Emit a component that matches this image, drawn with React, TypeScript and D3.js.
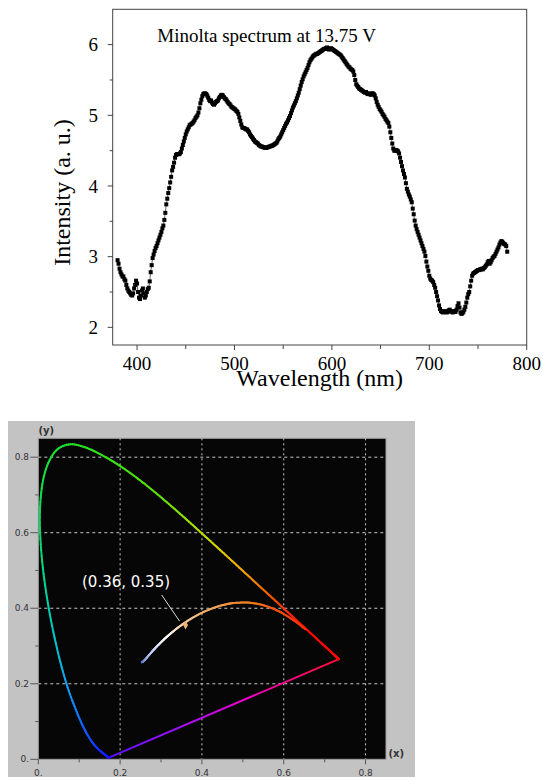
import React from 'react';
import * as d3 from 'd3';

// ---------------- Top chart data ----------------
const wavelengthStart = 380;
const wavelengthEnd = 780;
const intensity = [
  2.95, 2.90, 2.83, 2.78, 2.75, 2.72, 2.72, 2.68, 2.66, 2.60,
  2.55, 2.52, 2.50, 2.48, 2.46, 2.45, 2.48, 2.55, 2.60, 2.66,
  2.62, 2.50, 2.42, 2.40, 2.45, 2.52, 2.55, 2.48, 2.42, 2.45,
  2.50, 2.54, 2.56, 2.65, 2.78, 2.88, 2.98, 3.03, 3.08, 3.12,
  3.15, 3.19, 3.23, 3.27, 3.31, 3.35, 3.40, 3.44, 3.52, 3.62,
  3.74, 3.82, 3.90, 3.97, 4.05, 4.13, 4.22, 4.27, 4.33, 4.40,
  4.44, 4.45, 4.45, 4.45, 4.46, 4.48, 4.53, 4.58, 4.63, 4.68,
  4.73, 4.77, 4.80, 4.83, 4.86, 4.87, 4.88, 4.89, 4.91, 4.93,
  4.96, 4.98, 5.00, 5.04, 5.10, 5.17, 5.22, 5.27, 5.30, 5.31,
  5.31, 5.30, 5.28, 5.25, 5.22, 5.20, 5.21, 5.18, 5.16, 5.15,
  5.17, 5.19, 5.20, 5.21, 5.24, 5.26, 5.28, 5.29, 5.28, 5.26,
  5.24, 5.23, 5.21, 5.19, 5.17, 5.16, 5.14, 5.12, 5.11, 5.10,
  5.09, 5.08, 5.06, 5.05, 5.02, 4.97, 4.92, 4.87, 4.83, 4.82,
  4.82, 4.81, 4.80, 4.80, 4.78, 4.76, 4.73, 4.71, 4.69, 4.67,
  4.65, 4.63, 4.62, 4.61, 4.60, 4.58, 4.57, 4.56, 4.56, 4.55,
  4.55, 4.54, 4.54, 4.54, 4.55, 4.55, 4.56, 4.56, 4.57, 4.57,
  4.58, 4.59, 4.60, 4.61, 4.63, 4.66, 4.68, 4.70, 4.73, 4.76,
  4.79, 4.82, 4.85, 4.88, 4.90, 4.93, 4.96, 4.99, 5.03, 5.07,
  5.11, 5.14, 5.17, 5.20, 5.24, 5.28, 5.32, 5.37, 5.42, 5.47,
  5.51, 5.55, 5.58, 5.61, 5.64, 5.67, 5.71, 5.75, 5.78, 5.80,
  5.82, 5.84, 5.85, 5.86, 5.87, 5.87, 5.88, 5.89, 5.90, 5.91,
  5.92, 5.93, 5.94, 5.94, 5.95, 5.96, 5.94, 5.93, 5.94, 5.95,
  5.94, 5.93, 5.92, 5.91, 5.90, 5.89, 5.88, 5.87, 5.86, 5.85,
  5.83, 5.81, 5.79, 5.77, 5.75, 5.73, 5.71, 5.69, 5.68, 5.66,
  5.65, 5.64, 5.62, 5.57, 5.50, 5.44, 5.42, 5.40, 5.38, 5.37,
  5.36, 5.35, 5.34, 5.33, 5.32, 5.33, 5.31, 5.30, 5.31, 5.30,
  5.29, 5.31, 5.31, 5.30, 5.28, 5.24, 5.19, 5.15, 5.12, 5.09,
  5.07, 5.05, 5.02, 5.00, 4.98, 4.95, 4.93, 4.91, 4.89, 4.84,
  4.76, 4.68, 4.60, 4.53, 4.50, 4.50, 4.51, 4.50, 4.49, 4.46,
  4.40, 4.34, 4.28, 4.22, 4.17, 4.12, 4.04, 3.96, 3.92, 3.88,
  3.85, 3.81, 3.77, 3.68, 3.60, 3.51, 3.44, 3.39, 3.35, 3.31,
  3.27, 3.23, 3.19, 3.15, 3.11, 3.07, 3.01, 2.93, 2.86, 2.80,
  2.73, 2.69, 2.67, 2.66, 2.64, 2.60, 2.56, 2.50, 2.44, 2.38,
  2.31, 2.26, 2.23, 2.22, 2.21, 2.22, 2.23, 2.22, 2.21, 2.22,
  2.24, 2.25, 2.23, 2.22, 2.21, 2.23, 2.22, 2.22, 2.25, 2.30,
  2.34, 2.28, 2.21, 2.19, 2.20, 2.22, 2.25, 2.29, 2.35, 2.42,
  2.47, 2.50, 2.58, 2.66, 2.73, 2.76, 2.77, 2.78, 2.79, 2.80,
  2.81, 2.81, 2.82, 2.82, 2.83, 2.82, 2.84, 2.85, 2.87, 2.89,
  2.92, 2.94, 2.90, 2.92, 2.95, 2.98, 3.00, 3.01, 3.04, 3.07,
  3.10, 3.13, 3.17, 3.20, 3.22, 3.21, 3.19, 3.18, 3.17, 3.15,
  3.07,
];
const xMajorTicks = [400, 500, 600, 700, 800];
const xMinorTicks = [450, 550, 650, 750];
const yMajorTicks = [2, 3, 4, 5, 6];
const yMinorTicks = [2.5, 3.5, 4.5, 5.5];
const annotationText = 'Minolta spectrum at 13.75 V';
const xTitle = 'Wavelength (nm)';
const yTitle = 'Intensity (a. u.)';

// ---------------- CIE chart data ----------------
const locusWavelengths = [
  380, 385, 390, 395, 400, 405, 410, 415, 420, 425, 430, 435, 440, 445, 450, 455,
  460, 465, 470, 475, 480, 485, 490, 495, 500, 505, 510, 515, 520, 525, 530, 535,
  540, 545, 550, 555, 560, 565, 570, 575, 580, 585, 590, 595, 600, 605, 610, 615,
  620, 625, 630, 635, 640, 645, 650, 655, 660, 665, 670, 675, 680, 685, 690, 695, 700,
];
const locusX = [
  0.1741, 0.1740, 0.1738, 0.1736, 0.1733, 0.1730, 0.1726, 0.1721, 0.1714, 0.1703, 0.1689, 0.1669, 0.1644, 0.1611, 0.1566, 0.1510,
  0.1440, 0.1355, 0.1241, 0.1096, 0.0913, 0.0687, 0.0454, 0.0235, 0.0082, 0.0039, 0.0139, 0.0389, 0.0743, 0.1142, 0.1547, 0.1929,
  0.2296, 0.2658, 0.3016, 0.3373, 0.3731, 0.4087, 0.4441, 0.4788, 0.5125, 0.5448, 0.5752, 0.6029, 0.6270, 0.6482, 0.6658, 0.6801,
  0.6915, 0.7006, 0.7079, 0.7140, 0.7190, 0.7230, 0.7260, 0.7283, 0.7300, 0.7311, 0.7320, 0.7327, 0.7334, 0.7340, 0.7344, 0.7346, 0.7347,
];
const locusY = [
  0.0050, 0.0050, 0.0049, 0.0049, 0.0048, 0.0048, 0.0048, 0.0048, 0.0051, 0.0058, 0.0069, 0.0086, 0.0109, 0.0138, 0.0177, 0.0227,
  0.0297, 0.0399, 0.0578, 0.0868, 0.1327, 0.2007, 0.2950, 0.4127, 0.5384, 0.6548, 0.7502, 0.8120, 0.8338, 0.8262, 0.8059, 0.7816,
  0.7543, 0.7243, 0.6923, 0.6589, 0.6245, 0.5896, 0.5547, 0.5202, 0.4866, 0.4544, 0.4242, 0.3965, 0.3725, 0.3514, 0.3340, 0.3197,
  0.3083, 0.2993, 0.2920, 0.2859, 0.2809, 0.2770, 0.2740, 0.2717, 0.2700, 0.2689, 0.2680, 0.2673, 0.2666, 0.2660, 0.2656, 0.2654, 0.2653,
];
const planckT = [1000, 1200, 1400, 1500, 1600, 1800, 2000, 2200, 2500, 2700, 3000, 3500, 4000, 4500, 5000, 5500, 6000, 6500, 7000, 8000, 9000, 10000, 12000, 15000, 20000, 25000];
const planckX = [0.6528, 0.6251, 0.5985, 0.5857, 0.5732, 0.5492, 0.5267, 0.5056, 0.4770, 0.4599, 0.4369, 0.4053, 0.3805, 0.3608, 0.3451, 0.3325, 0.3221, 0.3135, 0.3064, 0.2952, 0.2869, 0.2807, 0.2722, 0.2637, 0.2564, 0.2530];
const planckY = [0.3444, 0.3674, 0.3858, 0.3931, 0.3993, 0.4082, 0.4133, 0.4152, 0.4137, 0.4106, 0.4041, 0.3907, 0.3768, 0.3636, 0.3516, 0.3411, 0.3318, 0.3237, 0.3166, 0.3048, 0.2956, 0.2884, 0.2779, 0.2671, 0.2590, 0.2570];
const cieMajorTicks = [0, 0.2, 0.4, 0.6, 0.8];
const cieTickLabels = ['0.', '0.2', '0.4', '0.6', '0.8'];
const cieMinorTicks = [0.1, 0.3, 0.5, 0.7];
const cieGrid = [0.2, 0.4, 0.6, 0.8];
const pointLabel = '(0.36, 0.35)';
const pointX = 0.36;
const pointY = 0.35;

const serif = '"Liberation Serif", "Times New Roman", Times, serif';
const sans = '"DejaVu Sans", Verdana, sans-serif';

function catmull(p0: number, p1: number, p2: number, p3: number, t: number) {
  const t2 = t * t, t3 = t2 * t;
  return 0.5 * (2 * p1 + (-p0 + p2) * t + (2 * p0 - 5 * p1 + 4 * p2 - p3) * t2 + (-p0 + 3 * p1 - 3 * p2 + p3) * t3);
}

function smoothSegments(px: number[], py: number[], param: number[], color: (v: number) => string, steps = 8) {
  const segs: { d: string; c: string }[] = [];
  const n = px.length;
  for (let i = 0; i < n - 1; i++) {
    const i0 = Math.max(0, i - 1), i3 = Math.min(n - 1, i + 2);
    let prev: [number, number] = [px[i], py[i]];
    for (let s = 1; s <= steps; s++) {
      const t = s / steps;
      const x = catmull(px[i0], px[i], px[i + 1], px[i3], t);
      const y = catmull(py[i0], py[i], py[i + 1], py[i3], t);
      const v = param[i] + (param[i + 1] - param[i]) * (t - 0.5 / steps);
      segs.push({ d: `M${prev[0]},${prev[1]}L${x},${y}`, c: color(v) });
      prev = [x, y];
    }
  }
  return segs;
}

export default function App() {
  // ---- top chart ----
  const sx = d3.scaleLinear().domain([375, 800]).range([112.7, 526.7]);
  const sy = d3.scaleLinear().domain([1.75, 6.5]).range([345, 9.3]);
  const wavelengths = d3.range(wavelengthStart, wavelengthEnd + 1);
  const spectrum = wavelengths.map((w, i) => ({ w, v: intensity[i] }));
  const spLine = d3.line<{ w: number; v: number }>().x(d => sx(d.w)).y(d => sy(d.v));

  // ---- CIE chart ----
  const cx = d3.scaleLinear().domain([0, 0.85]).range([38.3, 386]);
  const cy = d3.scaleLinear().domain([0, 0.85]).range([759.3, 438.3]);

  const wlColor = d3.scaleLinear<string>()
    .domain([380, 440, 460, 475, 485, 490, 495, 500, 510, 530, 550, 560, 570, 578, 585, 595, 605, 700])
    .range(['#3010ff', '#1818ff', '#1030ff', '#1060ff', '#10a0f0', '#00c0d0', '#00d0a8', '#00d878', '#10e040', '#30e018', '#60e000', '#a0e000', '#e0d000', '#f0a800', '#f07000', '#ff3000', '#ff0808', '#ff0000'])
    .interpolate(d3.interpolateRgb);
  const locusSegs = smoothSegments(
    locusX.map(v => cx(v)), locusY.map(v => cy(v)), locusWavelengths, v => wlColor(v), 8);

  const tColor = d3.scaleLinear<string>()
    .domain([1000, 1500, 2000, 3000, 4500, 6500, 10000, 25000])
    .range(['#ff3000', '#f05010', '#f07818', '#f0a050', '#f0c8a0', '#ffffff', '#c8d4f8', '#5878c8'])
    .interpolate(d3.interpolateRgb);
  const planckSegs = smoothSegments(
    planckX.map(v => cx(v)), planckY.map(v => cy(v)), planckT, v => tColor(v), 8);

  const purpleStart = [cx(locusX[0]), cy(locusY[0])];
  const purpleEnd = [cx(locusX[locusX.length - 1]), cy(locusY[locusY.length - 1])];

  const mx = cx(pointX), my = cy(pointY);

  return (
    <svg width={543} height={777} style={{ position: 'absolute', left: 0, top: 0, background: '#fff' }}>
      {/* ================= TOP CHART ================= */}
      <rect x={sx(375)} y={sy(6.5)} width={sx(800) - sx(375)} height={sy(1.75) - sy(6.5)} fill="none" stroke="#444" strokeWidth={1} />
      {xMajorTicks.map(t => (
        <g key={'xm' + t}>
          <line x1={sx(t)} x2={sx(t)} y1={sy(1.75)} y2={sy(1.75) + 5} stroke="#444" />
          <text x={sx(t)} y={370} fontFamily={serif} fontSize={19} textAnchor="middle" fill="#000">{t}</text>
        </g>
      ))}
      {xMinorTicks.map(t => (
        <line key={'xn' + t} x1={sx(t)} x2={sx(t)} y1={sy(1.75)} y2={sy(1.75) + 4} stroke="#444" />
      ))}
      {yMajorTicks.map(t => (
        <g key={'ym' + t}>
          <line x1={sx(375) - 5} x2={sx(375)} y1={sy(t)} y2={sy(t)} stroke="#444" />
          <text x={98} y={sy(t)} dy="0.35em" fontFamily={serif} fontSize={19} textAnchor="end" fill="#000">{t}</text>
        </g>
      ))}
      {yMinorTicks.map(t => (
        <line key={'yn' + t} x1={sx(375) - 3} x2={sx(375)} y1={sy(t)} y2={sy(t)} stroke="#444" />
      ))}
      <path d={spLine(spectrum) || ''} fill="none" stroke="#000" strokeWidth={0.6} />
      {spectrum.map(d => (
        <rect key={'p' + d.w} x={sx(d.w) - 2} y={sy(d.v) - 2} width={4} height={4} fill="#000" />
      ))}
      <text x={157.3} y={41.7} fontFamily={serif} fontSize={19} fill="#000">{annotationText}</text>
      <text x={319.7} y={385.5} fontFamily={serif} fontSize={24} textAnchor="middle" fill="#000">{xTitle}</text>
      <text transform={`translate(70,192.5) rotate(-90)`} fontFamily={serif} fontSize={24} textAnchor="middle" fill="#000">{yTitle}</text>

      {/* ================= CIE CHART ================= */}
      <rect x={8} y={421} width={407} height={356} fill="#c3c3c3" />
      <rect x={cx(0)} y={cy(0.85)} width={cx(0.85) - cx(0)} height={cy(0) - cy(0.85)} fill="#060606" stroke="#a0a0a0" strokeWidth={1} />
      {cieGrid.map(g => (
        <g key={'g' + g}>
          <line x1={cx(g)} x2={cx(g)} y1={cy(0.85)} y2={cy(0)} stroke="#c8c8c8" strokeWidth={1} strokeDasharray="2,3" />
          <line x1={cx(0)} x2={cx(0.85)} y1={cy(g)} y2={cy(g)} stroke="#c8c8c8" strokeWidth={1} strokeDasharray="3,3" />
        </g>
      ))}
      <defs>
        <linearGradient id="purpleGrad" gradientUnits="userSpaceOnUse" x1={purpleStart[0]} y1={purpleStart[1]} x2={purpleEnd[0]} y2={purpleEnd[1]}>
          <stop offset="0" stopColor="#5a10ff" />
          <stop offset="0.3" stopColor="#a010ff" />
          <stop offset="0.6" stopColor="#f000c8" />
          <stop offset="1" stopColor="#ff1030" />
        </linearGradient>
      </defs>
      <line x1={purpleStart[0]} y1={purpleStart[1]} x2={purpleEnd[0]} y2={purpleEnd[1]} stroke="url(#purpleGrad)" strokeWidth={2} />
      {locusSegs.map((s, i) => (
        <path key={'l' + i} d={s.d} stroke={s.c} strokeWidth={2} fill="none" strokeLinecap="round" />
      ))}
      {planckSegs.map((s, i) => (
        <path key={'k' + i} d={s.d} stroke={s.c} strokeWidth={2} fill="none" strokeLinecap="round" />
      ))}
      <line x1={161.7} y1={595} x2={mx - 6} y2={my - 6} stroke="#d8d8d8" strokeWidth={1} />
      <path d={d3.symbol(d3.symbolDiamond, 22)() || ''} transform={`translate(${mx},${my - 2})`} fill="#f0b070" />
      <text x={82} y={587} fontFamily={sans} fontSize={15} fill="#fff">{pointLabel}</text>

      {/* axes ticks */}
      {cieMajorTicks.map((t, i) => (
        <g key={'cm' + t}>
          <line x1={cx(0) - 8} x2={cx(0)} y1={cy(t)} y2={cy(t)} stroke="#555" />
          <text x={29} y={cy(t)} dy="0.35em" fontFamily={sans} fontSize={9} textAnchor="end" fill="#333">{cieTickLabels[i]}</text>
          <line x1={cx(t)} x2={cx(t)} y1={cy(0)} y2={cy(0) + 5} stroke="#555" />
          <text x={cx(t)} y={775.5} fontFamily={sans} fontSize={9} textAnchor="middle" fill="#333">{cieTickLabels[i]}</text>
        </g>
      ))}
      {cieMinorTicks.map(t => (
        <g key={'cn' + t}>
          <line x1={cx(0) - 3} x2={cx(0)} y1={cy(t)} y2={cy(t)} stroke="#555" />
          <line x1={cx(t)} x2={cx(t)} y1={cy(0)} y2={cy(0) + 3} stroke="#555" />
        </g>
      ))}
      <text x={38.5} y={434} fontFamily={sans} fontSize={10} fontWeight="bold" fill="#333">(y)</text>
      <text x={388.5} y={757} fontFamily={sans} fontSize={10} fontWeight="bold" fill="#333">(x)</text>
    </svg>
  );
}
